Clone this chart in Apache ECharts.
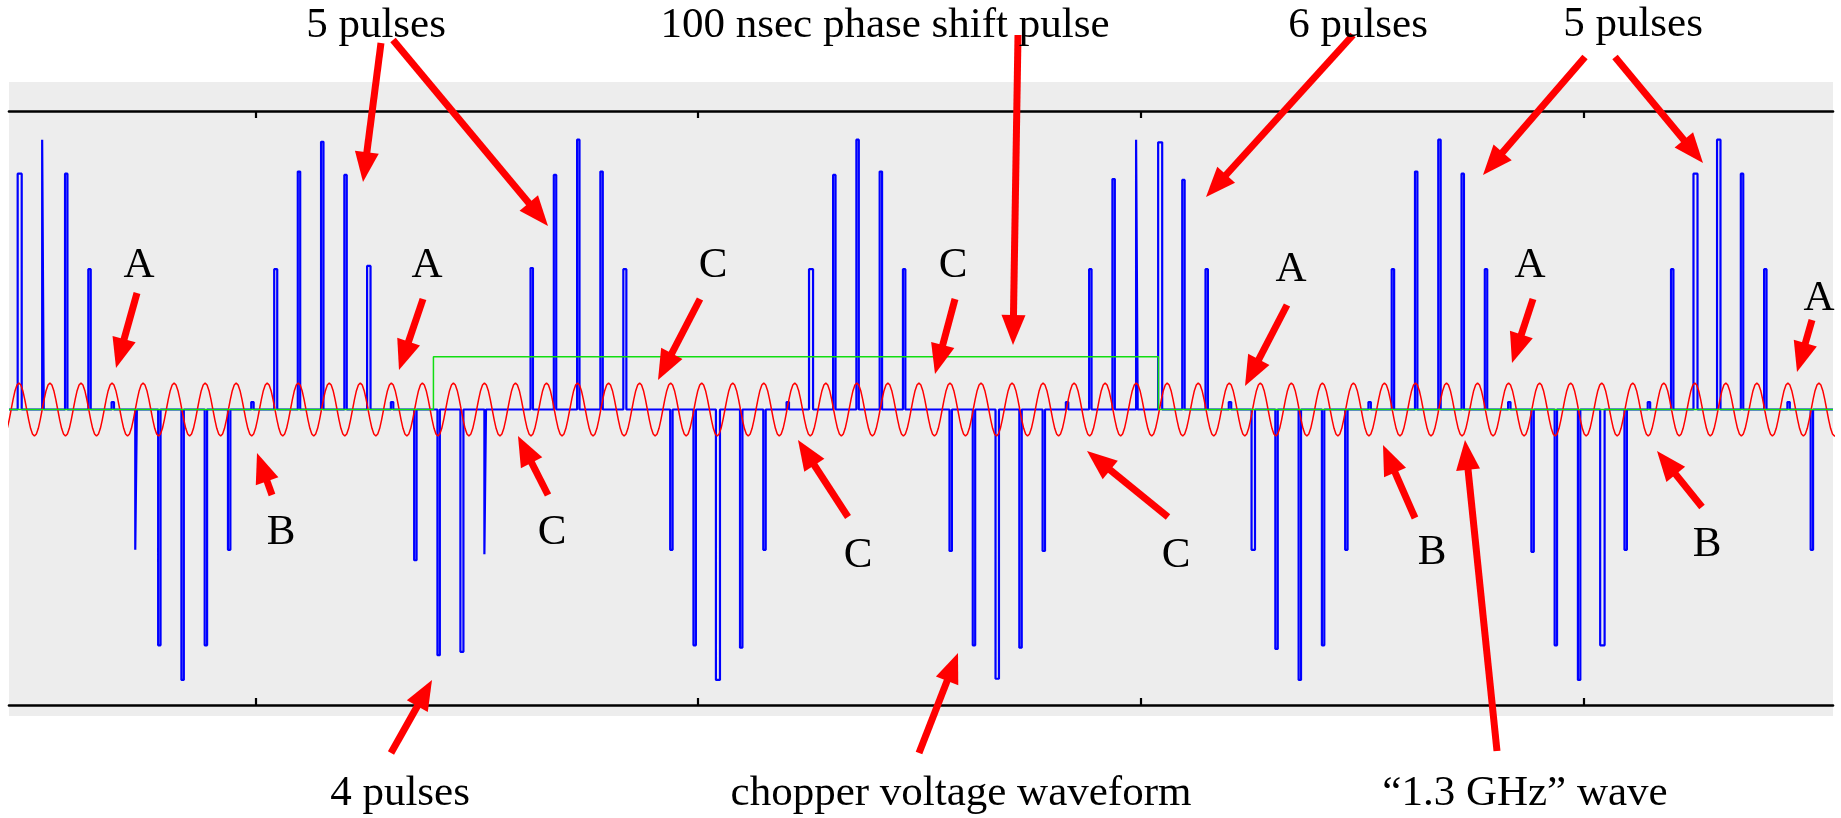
<!DOCTYPE html>
<html><head><meta charset="utf-8">
<script src="https://cdn.jsdelivr.net/npm/echarts@6/dist/echarts.min.js"></script>
<style>html,body{margin:0;padding:0;background:#fff}#c{width:1841px;height:818px}</style>
</head><body><div id="c"></div>
<script>
// ---- data (time in ns, voltage in normalised units) ----
const xRangeNs = [0, 45.21];
const yRange = [-0.99, 1.0];
const tickTimesNs = [6.12, 17.08, 28.05, 39.03];

const rfFreqGHz = 1.3;
const rfFirstCrestNs = 0.27;
const rfCycleSamples = [1, 0.92, 0.71, 0.38, 0, -0.38, -0.71, -0.92, -1, -0.92, -0.71, -0.38, 0, 0.38, 0.71, 0.92];
const rfAmplitude = 0.089;

// chopper pulses: one every 3/4 RF period
const pulseFirstNs = 0.265;
const pulseSpacingNs = 0.5769;
const pulseAmps = [
  0.79, 0.904, 0.79, 0.47, 0.025, -0.47, -0.79, -0.906, -0.79, -0.47,
  0.025, 0.47, 0.797, 0.897, 0.786, 0.481, 0.025, -0.505, -0.823, -0.812,
  -0.485, 0, 0.474, 0.786, 0.904, 0.797, 0.47, 0, -0.47, -0.79,
  -0.906, -0.798, -0.47, 0.025, 0.47, 0.786, 0.904, 0.797, 0.47, 0,
  -0.474, -0.79, -0.902, -0.798, -0.474, 0.025, 0.47, 0.772, 0.904, 0.895,
  0.769, 0.47, 0.025, -0.47, -0.802, -0.906, -0.79, -0.47, 0.025, 0.47,
  0.797, 0.904, 0.79, 0.47, 0.025, -0.477, -0.79, -0.906, -0.79, -0.47,
  0.025, 0.47, 0.79, 0.904, 0.79, 0.47, 0.025, -0.47
];
const pulseDurNs = [
  0.10, 0.04, 0.06, 0.06, 0.06, 0.04, 0.06, 0.06, 0.06, 0.06,
  0.06, 0.075, 0.06, 0.06, 0.06, 0.085, 0.06, 0.06, 0.06, 0.075,
  0.04, 0.06, 0.06, 0.06, 0.06, 0.06, 0.075, 0.06, 0.06, 0.06,
  0.10, 0.06, 0.06, 0.06, 0.10, 0.06, 0.06, 0.06, 0.06, 0.06,
  0.06, 0.06, 0.085, 0.06, 0.06, 0.06, 0.06, 0.06, 0.04, 0.10,
  0.06, 0.06, 0.06, 0.085, 0.06, 0.06, 0.06, 0.06, 0.06, 0.06,
  0.06, 0.06, 0.06, 0.06, 0.06, 0.06, 0.06, 0.06, 0.11, 0.06,
  0.06, 0.06, 0.10, 0.085, 0.06, 0.06, 0.06, 0.06
];

// phase shift pulse
const phaseShiftStartNs = 10.52;
const phaseShiftEndNs = 28.49;
const phaseShiftLevel = 0.177;

// ---- annotations (layout, in page pixels) ----
const labels = [
  ['5 pulses', 376, 40], ['100 nsec phase shift pulse', 885, 40], ['6 pulses', 1358, 40], ['5 pulses', 1633, 39],
  ['4 pulses', 400, 808], ['chopper voltage waveform', 961, 808], ['\u201c1.3 GHz\u201d wave', 1525, 808],
  ['A', 139, 280], ['A', 427, 280], ['A', 1291, 284], ['A', 1530, 280], ['A', 1819, 313],
  ['B', 281, 547], ['B', 1432, 567], ['B', 1707, 559],
  ['C', 552, 547], ['C', 713, 280], ['C', 858, 570], ['C', 953, 280], ['C', 1176, 570]
];
const arrows = [
  [381, 43, 363, 182], [393, 40, 548, 226], [1018, 35, 1013, 345], [1353, 35, 1206, 197],
  [1585, 57, 1483, 175], [1615, 57, 1703, 163],
  [137, 293, 116, 368], [423, 299, 399, 370], [1287, 305, 1245, 386], [1533, 299, 1512, 363], [1812, 320, 1797, 372],
  [272, 495, 257, 453], [1415, 518, 1383, 445], [1702, 507, 1657, 451],
  [548, 495, 518, 436], [700, 299, 658, 380], [848, 517, 798, 440], [955, 299, 935, 374], [1168, 517, 1087, 451],
  [391, 753, 432, 680], [919, 753, 958, 653], [1497, 751, 1465, 440]
];

// ---- build series data ----
const chopper = [[xRangeNs[0], 0]];
pulseAmps.forEach((a, k) => {
  const t = pulseFirstNs + k * pulseSpacingNs, h = pulseDurNs[k] / 2;
  chopper.push([t - h, 0], [t - h, a], [t + h, a], [t + h, 0]);
});
chopper.push([xRangeNs[1], 0]);

const rfPeriod = 1 / rfFreqGHz;
const rf = [];
const n = rfCycleSamples.length;
for (let c = -1; rfFirstCrestNs + c * rfPeriod <= xRangeNs[1] + rfPeriod; c++) {
  rfCycleSamples.forEach((v, i) => {
    const t = rfFirstCrestNs + (c + i / n) * rfPeriod;
    if (t >= xRangeNs[0] - 0.1 && t <= xRangeNs[1] + 0.1) rf.push([t, v * rfAmplitude]);
  });
}

const shift = [[xRangeNs[0], 0], [phaseShiftStartNs, 0], [phaseShiftStartNs, phaseShiftLevel],
  [phaseShiftEndNs, phaseShiftLevel], [phaseShiftEndNs, 0], [xRangeNs[1], 0]];

// ---- graphics ----
const FONT = '43px "Liberation Serif", "Times New Roman", serif';
const gfx = [{ type: 'rect', z: -10, silent: true, shape: { x: 9, y: 82, width: 1824, height: 634 }, style: { fill: '#ededed' } }];
arrows.forEach(([x1, y1, x2, y2]) => {
  const dx = x2 - x1, dy = y2 - y1, L = Math.hypot(dx, dy), ux = dx / L, uy = dy / L;
  const hl = 30, hw = 12, bx = x2 - ux * hl, by = y2 - uy * hl, px = -uy, py = ux;
  gfx.push({ type: 'line', z: 100, silent: true, shape: { x1, y1, x2: bx + ux * 2, y2: by + uy * 2 }, style: { stroke: '#ff0000', lineWidth: 7 } });
  gfx.push({ type: 'polygon', z: 100, silent: true, shape: { points: [[x2, y2], [bx + px * hw, by + py * hw], [bx - px * hw, by - py * hw]] }, style: { fill: '#ff0000' } });
});
labels.forEach(([txt, x, y]) => {
  gfx.push({ type: 'text', z: 101, silent: true, x: x, y: y - 14.5, style: { text: txt, font: FONT, fill: '#000', align: 'center', verticalAlign: 'middle' } });
});

const axisCommon = {
  type: 'value', min: xRangeNs[0], max: xRangeNs[1],
  axisLine: { show: true, onZero: false, lineStyle: { color: '#000', width: 2.6 } },
  axisTick: { show: true, inside: true, length: 7, lineStyle: { color: '#000', width: 2.2 }, customValues: tickTimesNs },
  axisLabel: { show: false }, splitLine: { show: false }
};

const chart = echarts.init(document.getElementById('c'), null, { renderer: 'canvas' });
chart.setOption({
  animation: false,
  backgroundColor: '#ffffff',
  grid: { left: 9, right: 8, top: 111, bottom: 113, containLabel: false },
  xAxis: [Object.assign({ position: 'bottom' }, axisCommon), Object.assign({ position: 'top' }, axisCommon)],
  yAxis: { type: 'value', min: yRange[0], max: yRange[1], show: false },
  series: [
    { name: 'chopper voltage', type: 'line', data: chopper, showSymbol: false, symbol: 'none', sampling: null,
      lineStyle: { color: '#0000ff', width: 2.2 }, z: 2 },
    { name: 'RF wave', type: 'line', data: rf, showSymbol: false, symbol: 'none', step: 'middle',
      lineStyle: { color: '#ff0000', width: 1.5 }, z: 3 },
    { name: 'phase shift', type: 'line', data: shift, showSymbol: false, symbol: 'none',
      lineStyle: { color: '#11dd11', width: 1.5 }, z: 4 }
  ],
  graphic: gfx
});
</script>
</body></html>
